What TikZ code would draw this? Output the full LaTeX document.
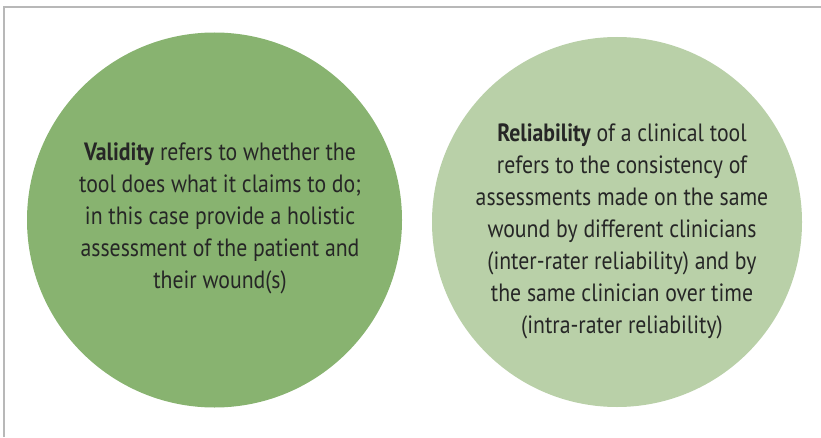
\documentclass[tikz,border=0pt]{standalone}
\usepackage{fontspec}
\setmainfont[FakeStretch=0.87]{PT Sans}
\usepackage{xcolor}
\definecolor{validgreen}{HTML}{88B370}
\definecolor{relgreen}{HTML}{B9D0A8}
\definecolor{textgrey}{HTML}{262626}
\tikzset{frame line/.style={draw=black!28,line width=1.4pt},
  circle text/.style={align=center,text=textgrey,font=\fontsize{25}{32}\selectfont}}

\begin{document}
\begin{tikzpicture}[x=1pt,y=1pt]
	\def\rv{187.5}
	\def\rr{185}
	\useasboundingbox (0,0) rectangle (821,437);
	\coordinate (V) at (214.5,217);
	\coordinate (R) at (617,215);
	\coordinate (FB) at (4,0);
	\coordinate (FC) at (4,430);
	\coordinate (FR) at (821,430);
	\fill[validgreen] (V) circle (\rv);
	\fill[relgreen] (R) circle (\rr);
	\draw[frame line] (FB) -- (FC) -- (FR);
	% texts
	\node[circle text] (validity) at (220,219) {\textbf{Validity} refers to whether the\\
		tool does what it claims to do;\\
		in this case provide a holistic\\
		assessment of the patient and\\
		their wound(s)};
	\node[circle text] (reliability) at (622,206) {\textbf{Reliability} of a clinical tool\\
		refers to the consistency of\\
		assessments made on the same\\
		wound by different clinicians\\
		(inter-rater reliability) and by\\
		the same clinician over time\\
		(intra-rater reliability)};
\end{tikzpicture}
\end{document}
